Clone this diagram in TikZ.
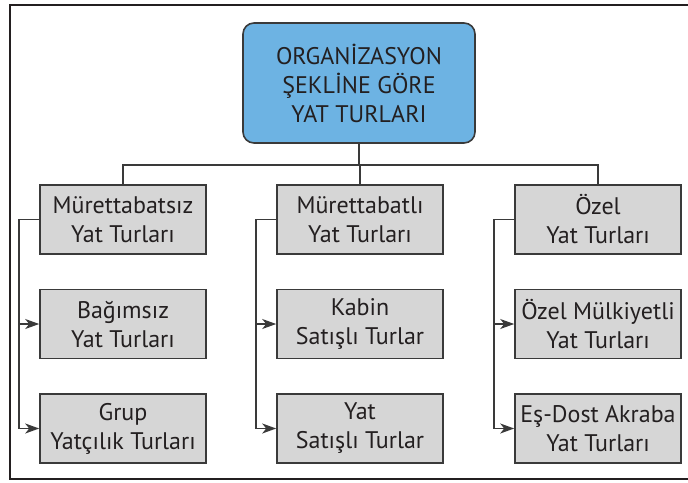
\documentclass[tikz,border=0pt]{standalone}
\usepackage{fontspec}
\setmainfont{PT Sans}
\usetikzlibrary{arrows.meta}
\definecolor{boxgray}{HTML}{D6D6D6}
\definecolor{boxblue}{HTML}{6DB3E3}
\definecolor{edge}{HTML}{3A3A3A}
\definecolor{ink}{HTML}{231F20}
\tikzset{
  lvbox/.style={draw=edge, line width=1.6pt, fill=boxgray, minimum width=166pt, minimum height=69pt, align=center, inner sep=0pt, font=\fontsize{24}{29}\selectfont, text=ink},
  topbox/.style={draw=edge, line width=1.6pt, fill=boxblue, rounded corners=11pt, minimum width=232pt, minimum height=120pt, align=center, inner sep=0pt, font=\fontsize{24}{29}\selectfont, text=ink},
  conn/.style={draw=edge, line width=1.5pt},
  arr/.style={conn, -{Stealth[length=14pt,width=10pt,inset=4pt]}},
}
\begin{document}
\begin{tikzpicture}[x=1pt,y=-1pt]
\useasboundingbox (0,0) rectangle (688,482);
\draw[line width=2.6pt, ink] (690,5) -- (10,5) -- (10,479) -- (690,479);
\node[topbox] (top) at (359,83) {ORGANİZASYON\\ŞEKLİNE GÖRE\\YAT TURLARI};
\node[lvbox] (m1) at (123,219.5) {Mürettabatsız\\Yat Turları};
\node[lvbox] (m2) at (360,219.5) {Mürettabatlı\\Yat Turları};
\node[lvbox] (m3) at (598,219.5) {Özel\\Yat Turları};
\node[lvbox] (b1) at (123,324) {Bağımsız\\Yat Turları};
\node[lvbox] (b2) at (360,324) {Kabin\\Satışlı Turlar};
\node[lvbox] (b3) at (598,324) {Özel Mülkiyetli\\Yat Turları};
\node[lvbox] (c1) at (123,428.5) {Grup\\Yatçılık Turları};
\node[lvbox] (c2) at (360,428.5) {Yat\\Satışlı Turlar};
\node[lvbox] (c3) at (598,428.5) {Eş-Dost Akraba\\Yat Turları};
\coordinate (bus) at (0,165);
\draw[conn] (top.south) -- (top.south |- bus);
\draw[conn] (m1.north) -- (m1.north |- bus) -- (m3.north |- bus) -- (m3.north);
\draw[conn] (m2.north) -- (m2.north |- bus);
\foreach \i in {1,2,3}{
  \draw[arr] (m\i.west) -- ++(-20,0) |- (b\i.west);
  \draw[arr] (m\i.west) -- ++(-20,0) |- (c\i.west);
}
\end{tikzpicture}
\end{document}
